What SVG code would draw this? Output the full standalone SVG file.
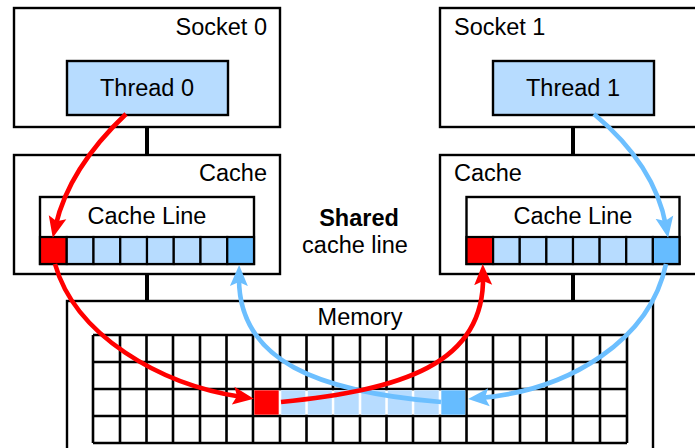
<svg xmlns="http://www.w3.org/2000/svg" width="695" height="448" viewBox="0 0 695 448">
<style>
.box{fill:#fff;stroke:#000;stroke-width:2.4}
.thr{fill:#b7dcff;stroke:#000;stroke-width:2.4}
.cell{stroke:#000;stroke-width:2.2}
.lb{fill:#b7dcff}
.db{fill:#66bcff}
.rd{fill:#ff0000}
.t{font-family:"Liberation Sans",Arial,sans-serif;font-size:23.5px;fill:#000}
.m{text-anchor:middle}
.e{text-anchor:end}
.link{stroke:#000;stroke-width:4}
.grid{stroke:#000;stroke-width:2.6;fill:none}
.ar{fill:none;stroke-width:4.6}
.red{stroke:#ff0000}
.blue{stroke:#6cbfff}
</style>
<defs>
<marker id="hr" markerUnits="userSpaceOnUse" markerWidth="22" markerHeight="20" viewBox="0 0 22 20" refX="9" refY="10" orient="auto">
<path d="M0,1 L21,10 L0,19 L4,10 z" fill="#ff0000"/>
</marker>
<marker id="hb" markerUnits="userSpaceOnUse" markerWidth="22" markerHeight="20" viewBox="0 0 22 20" refX="9" refY="10" orient="auto">
<path d="M0,1 L21,10 L0,19 L4,10 z" fill="#6cbfff"/>
</marker>
</defs>
<g id="connectors-links">
<line class="link" x1="147" y1="127" x2="147" y2="155"/>
<line class="link" x1="573" y1="127" x2="573" y2="155"/>
<line class="link" x1="147" y1="274" x2="147" y2="301"/>
<line class="link" x1="573" y1="274" x2="573" y2="301"/>
</g>
<g id="socket0">
<rect class="box" x="14" y="8" width="266" height="119"/>
<text class="t e" x="267" y="35">Socket 0</text>
</g>
<g id="thread0">
<rect class="thr" x="67" y="61" width="161" height="54"/>
<text class="t m" x="147" y="96">Thread 0</text>
</g>
<g id="socket1">
<rect class="box" x="440" y="8" width="300" height="119"/>
<text class="t" x="454" y="35">Socket 1</text>
</g>
<g id="thread1">
<rect class="thr" x="493" y="61" width="161" height="54"/>
<text class="t m" x="573" y="96">Thread 1</text>
</g>
<g id="cache0">
<rect class="box" x="14" y="155" width="266" height="119"/>
<text class="t e" x="267" y="181">Cache</text>
</g>
<g id="cacheline0">
<rect class="box" x="40" y="197" width="214" height="67"/>
<text class="t m" x="147" y="224">Cache Line</text>
<rect class="cell rd" x="40" y="237" width="26.75" height="27"/>
<rect class="cell lb" x="66.75" y="237" width="26.75" height="27"/>
<rect class="cell lb" x="93.5" y="237" width="26.75" height="27"/>
<rect class="cell lb" x="120.25" y="237" width="26.75" height="27"/>
<rect class="cell lb" x="147" y="237" width="26.75" height="27"/>
<rect class="cell lb" x="173.75" y="237" width="26.75" height="27"/>
<rect class="cell lb" x="200.5" y="237" width="26.75" height="27"/>
<rect class="cell db" x="227.25" y="237" width="26.75" height="27"/>
</g>
<g id="cache1">
<rect class="box" x="440" y="155" width="300" height="119"/>
<text class="t" x="454" y="181">Cache</text>
</g>
<g id="cacheline1">
<rect class="box" x="466.5" y="197" width="213" height="67"/>
<text class="t m" x="573" y="224">Cache Line</text>
<rect class="cell rd" x="466.5" y="237" width="26.63" height="27"/>
<rect class="cell lb" x="493.13" y="237" width="26.63" height="27"/>
<rect class="cell lb" x="519.75" y="237" width="26.63" height="27"/>
<rect class="cell lb" x="546.38" y="237" width="26.63" height="27"/>
<rect class="cell lb" x="573" y="237" width="26.63" height="27"/>
<rect class="cell lb" x="599.63" y="237" width="26.63" height="27"/>
<rect class="cell lb" x="626.25" y="237" width="26.63" height="27"/>
<rect class="cell db" x="652.88" y="237" width="26.62" height="27"/>
</g>
<g id="shared-label">
<text class="t m" x="359" y="226" font-weight="bold">Shared</text>
<text class="t m" x="355" y="253">cache line</text>
</g>
<g id="memory">
<rect class="box" x="67" y="301" width="586" height="170"/>
<text class="t m" x="360" y="325">Memory</text>
<path class="grid" d="M93,335H627M93,362H627M93,389H627M93,416H627M93,443H627
M93,335V443M120,335V443M146.5,335V443M173,335V443M200,335V443M226.5,335V443M253,335V443M280,335V443M306.5,335V443M333,335V443M360,335V443M386.5,335V443M413,335V443M440,335V443M466.5,335V443M493,335V443M520,335V443M546.5,335V443M573,335V443M600,335V443M627,335V443"/>
<rect x="254.3" y="390.3" width="210.9" height="24.4" fill="#fff"/>
<rect class="rd" x="254.3" y="390.3" width="24.4" height="24.4"/>
<rect class="lb" x="281.3" y="390.3" width="24" height="24.4"/>
<rect class="lb" x="307.8" y="390.3" width="24" height="24.4"/>
<rect class="lb" x="334.3" y="390.3" width="24.4" height="24.4"/>
<rect class="lb" x="361.3" y="390.3" width="24" height="24.4"/>
<rect class="lb" x="387.8" y="390.3" width="24" height="24.4"/>
<rect class="lb" x="414.3" y="390.3" width="24.4" height="24.4"/>
<rect class="db" x="441.3" y="390.3" width="23.9" height="24.4"/>
</g>
<g id="connectors">
<path class="ar blue" d="M594,114 Q655,165 666,226" marker-end="url(#hb)"/>
<path class="ar blue" d="M666,264 C650,340 570,390 480,398" marker-end="url(#hb)"/>
<path class="ar blue" d="M441,402 C320,392 238,362 239,277" marker-end="url(#hb)"/>
<path class="ar red" d="M126,114 Q69,168 55.5,226" marker-end="url(#hr)"/>
<path class="ar red" d="M55,264 C75,335 160,385 242,397" marker-end="url(#hr)"/>
<path class="ar red" d="M281,402 C400,390 485,365 483,276" marker-end="url(#hr)"/>
</g>
</svg>
